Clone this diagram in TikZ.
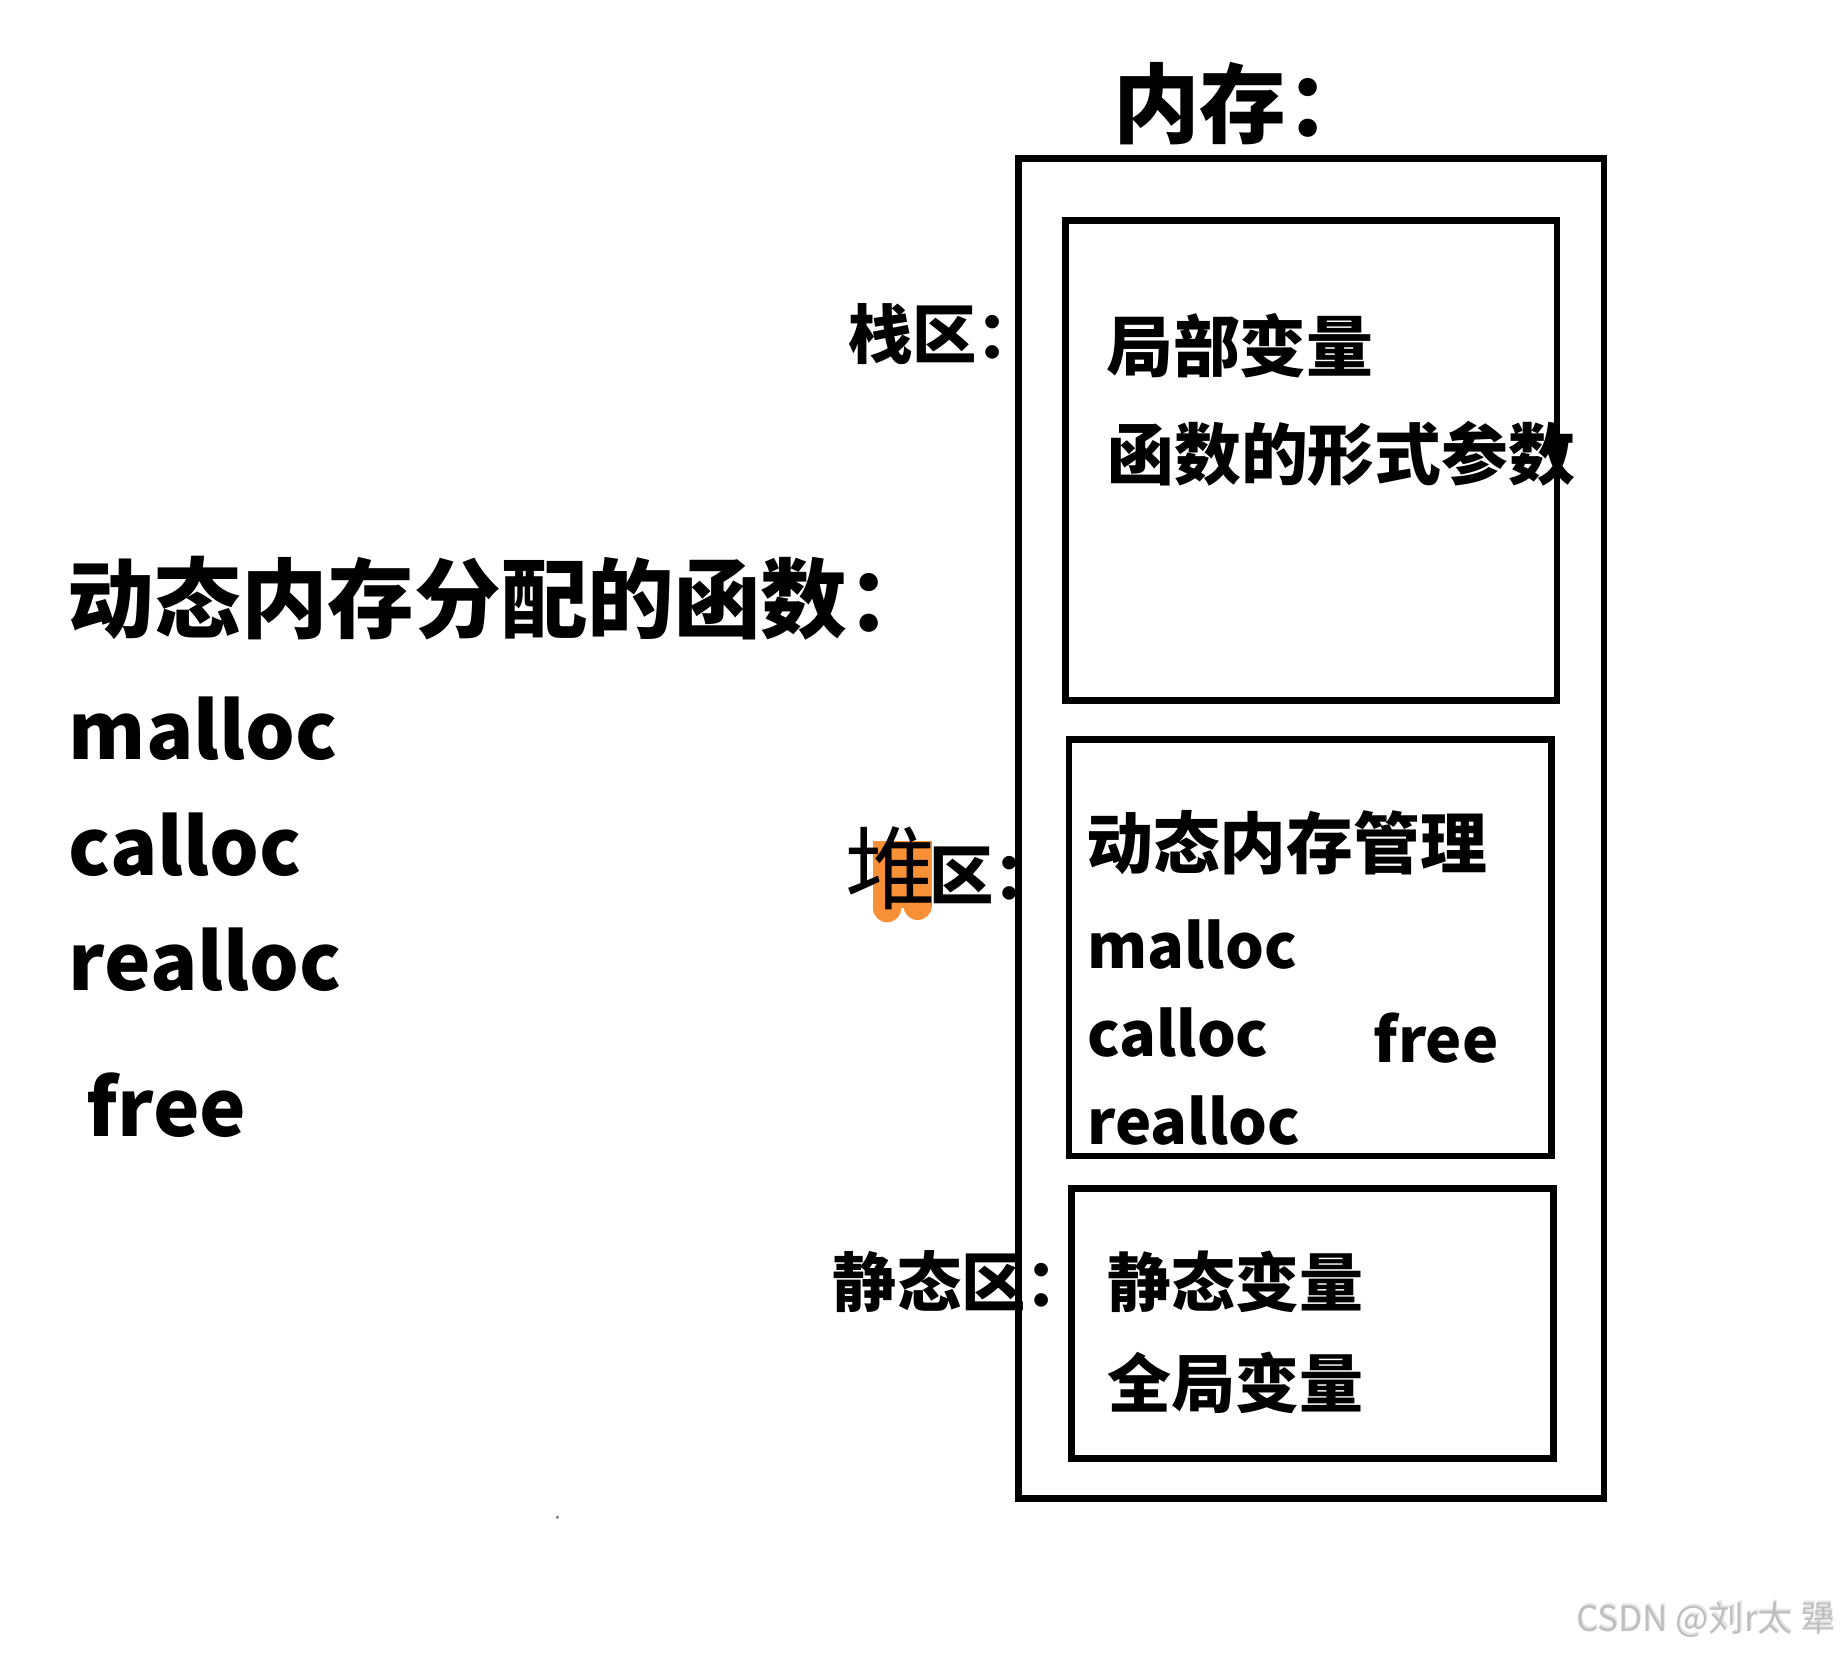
\documentclass[tikz,border=0pt]{standalone}
\usepackage{fontspec}
\newfontfamily\cjk{Noto Sans CJK SC}
\setmainfont{Noto Sans CJK SC}
\definecolor{hlorange}{HTML}{F79036}
\begin{document}
\begin{tikzpicture}[x=0.01cm,y=-0.01cm,
  box/.style={draw=black,line width=1.6pt},
  txt/.style={anchor=west,inner sep=0pt,font=\cjk\bfseries},
  big/.style={txt,font=\cjk\bfseries\fontsize{21}{23}\selectfont},
  mid/.style={txt,font=\cjk\bfseries\fontsize{16.2}{18}\selectfont},
  lab/.style={txt,font=\cjk\bfseries\fontsize{15.6}{17}\selectfont},
  lat/.style={txt,font=\cjk\bfseries\fontsize{19}{22}\selectfont},
  slat/.style={txt,font=\cjk\bfseries\fontsize{14.8}{17}\selectfont}]
\useasboundingbox (0,0) rectangle (1568,1408);
\fill[white] (0,0) rectangle (1568,1408);

% boxes
\draw[box] (868,135) rectangle (1367,1277);
\draw[box] (908,188) rectangle (1327,597);
\draw[box] (911,630) rectangle (1322,985);
\draw[box] (913,1013) rectangle (1324,1243);

% title
\node[big] (title) at (948,88) {内存：};

% stack
\node[lab] (stacklab) at (722,285) {栈区：};
\node[mid] (local) at (942,295) {局部变量};
\node[mid] (param) at (943,387) {函数的形式参数};

% left list
\node[big] (dyn) at (57,510) {动态内存分配的函数：};
\node[lat] (m1) at (58,621) {malloc};
\node[lat] (c1) at (58,720) {calloc};
\node[lat] (r1) at (58,818) {realloc};
\node[lat] (f1) at (73,942) {free};

% heap label with orange highlight
\fill[hlorange] (744,717) rectangle (794,774);
\fill[hlorange] (756,774) circle (12);
\fill[hlorange] (782,772) circle (12);
\node[txt,font=\cjk\fontsize{22}{24}\selectfont] (dui) at (720,740) {堆};
\node[lab] (qu) at (791,746) {区：};

% heap content
\node[mid] (dm) at (925,718) {动态内存管理};
\node[slat] (m2) at (926,805) {malloc};
\node[slat] (c2) at (926,880) {calloc};
\node[slat] (f2) at (1170,885) {free};
\node[slat] (r2) at (926,955) {realloc};

% static
\node[lab] (staticlab) at (709,1092) {静态区：};
\node[txt,font=\cjk\bfseries\fontsize{15.5}{17}\selectfont] (sv) at (943,1092) {静态变量};
\node[txt,font=\cjk\bfseries\fontsize{15.5}{17}\selectfont] (gv) at (943,1178) {全局变量};

% speck
\fill[gray] (475,1293) circle (1.5);

% watermark
\node[anchor=east,inner sep=0pt,font=\cjk\fontsize{8.5}{10}\selectfont,text=gray!20] (wm2) at (1566,1379) {CSDN @刘r太 犟};
\node[anchor=east,inner sep=0pt,font=\cjk\fontsize{8.5}{10}\selectfont,text=gray!50] (wm) at (1565,1380) {CSDN @刘r太 犟};
\end{tikzpicture}
\end{document}
